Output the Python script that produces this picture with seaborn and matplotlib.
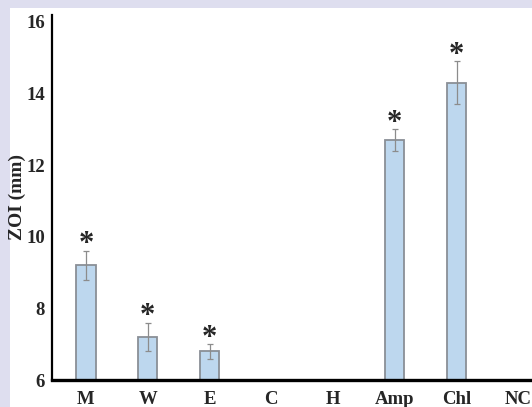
import matplotlib
matplotlib.use("Agg")
import matplotlib.pyplot as plt
import seaborn as sns
import pandas as pd

# Zone of inhibition per treatment (mm), with standard deviation
categories = ["M", "W", "E", "C", "H", "Amp", "Chl", "NC"]
zoi_mm = [9.2, 7.2, 6.8, 0, 0, 12.7, 14.3, 0]
zoi_sd = [0.4, 0.4, 0.2, 0, 0, 0.3, 0.6, 0]
significant = [True, True, True, False, False, True, True, False]
y_ticks = [6, 8, 10, 12, 14, 16]

sns.set_style("white")
plt.rcParams["font.family"] = ["Liberation Serif", "DejaVu Serif"]
plt.rcParams["font.weight"] = "bold"

df = pd.DataFrame({"treatment": categories, "zoi": zoi_mm})

W, H = 532, 407
fig = plt.figure(figsize=(W / 100, H / 100), dpi=100)
fig.patch.set_facecolor("#dedeef")
# white panel
fig.add_artist(plt.Rectangle((10 / W, 0), 1 - 10 / W, 1 - 8 / H,
                             transform=fig.transFigure, facecolor="white",
                             edgecolor="none", zorder=0))

ax = fig.add_axes([52 / W, 27 / H, 1 - 52 / W, 365.2 / H])
ax.set_facecolor("none")

sns.barplot(data=df, x="treatment", y="zoi", color="#bdd7ee", saturation=1,
            width=0.31, edgecolor="#8a8f96", linewidth=1.3, ax=ax)

xs = list(range(len(categories)))
for x, v, e, sig in zip(xs, zoi_mm, zoi_sd, significant):
    if v > 0:
        ax.errorbar(x, v, yerr=e, fmt="none", ecolor="#8c8c8c",
                    elinewidth=0.9, capsize=2.2, capthick=0.9, zorder=5)
    if sig:
        ax.annotate("*", xy=(x, v + e), xytext=(0, -6), textcoords="offset points",
                    ha="center", va="bottom", fontsize=22, fontweight="bold")

ax.set_ylim(6, 16.2)
ax.set_xlim(-0.55, 7.22)
ax.set_yticks(y_ticks)
ax.set_yticklabels([str(t) for t in y_ticks])
ax.set_xlabel("")
ax.set_ylabel("ZOI (mm)", fontsize=14, fontweight="bold", labelpad=0.5)

for side in ("top", "right"):
    ax.spines[side].set_visible(False)
ax.spines["left"].set_linewidth(1.6)
ax.spines["bottom"].set_linewidth(2.4)
ax.spines["left"].set_color("black")
ax.spines["bottom"].set_color("black")

ax.tick_params(axis="both", length=0)
ax.tick_params(axis="x", pad=8, labelsize=13.5)
ax.tick_params(axis="y", pad=5, labelsize=13.5)
for lbl in ax.get_xticklabels() + ax.get_yticklabels():
    lbl.set_fontweight("bold")

fig.savefig("out.png", dpi=100, facecolor=fig.get_facecolor())
